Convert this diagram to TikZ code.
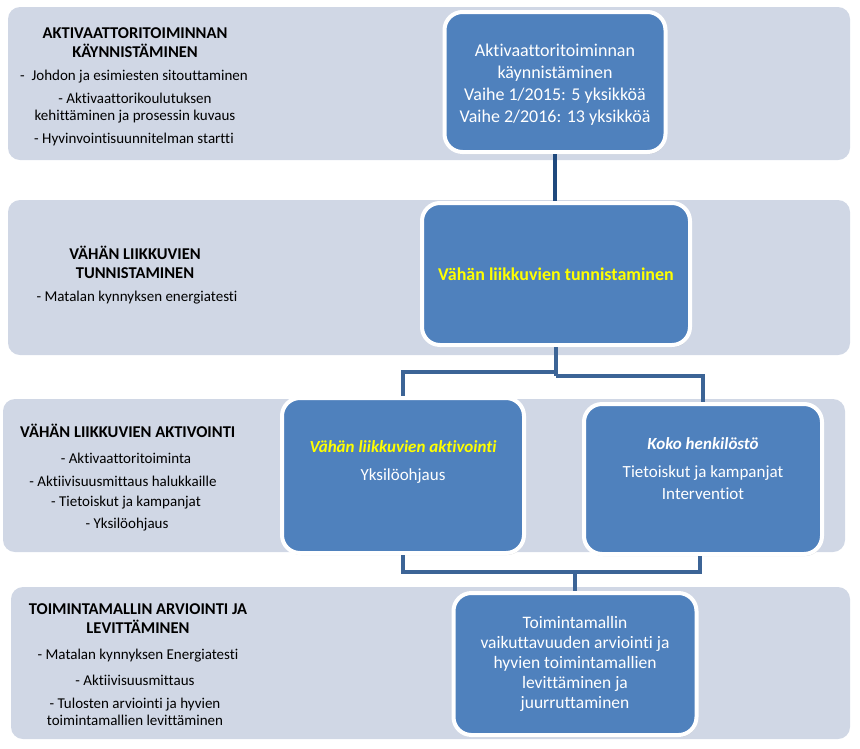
\documentclass[tikz,border=0pt]{standalone}
\usepackage{fontspec}
\setmainfont{Carlito}[Ligatures={NoCommon}]
\usetikzlibrary{shadows}
\definecolor{bandc}{RGB}{208,215,229}
\definecolor{boxc}{RGB}{79,129,189}
\definecolor{connA}{RGB}{31,73,125}
\definecolor{connB}{RGB}{60,100,150}
\definecolor{ylw}{RGB}{255,255,0}
\tikzset{
  band/.style={fill=bandc, draw=none, rounded corners=12pt},
  bluebox/.style={fill=boxc, draw=white, line width=4pt, rounded corners=18pt,
    align=center, text=white, font=\fontsize{18}{22}\selectfont, inner sep=2pt,
    drop shadow={opacity=0.25, shadow xshift=1pt, shadow yshift=-2pt}},
  boxtext/.style={align=center, text=white, inner sep=0pt},
  conn/.style={draw=connB, line width=4pt},
  title/.style={font=\fontsize{16.5}{19}\selectfont\bfseries, align=center, text=black, inner sep=0pt},
  item/.style={font=\fontsize{15}{17}\selectfont, align=center, text=black, inner sep=0pt},
}
\begin{document}
\begin{tikzpicture}[x=1pt,y=-1pt]
\useasboundingbox (0,0) rectangle (860,748);
% bands
\path[band] (8,7) rectangle (850,160);
\path[band] (8,200) rectangle (850,355);
\path[band] (3,399) rectangle (845,552);
\path[band] (11,587) rectangle (850,739);

% band texts
\node[title] (t1) at (135,43) {AKTIVAATTORITOIMINNAN\\KÄYNNISTÄMINEN};
\node[item] (t1a) at (134,77) {-\ \ Johdon ja esimiesten sitouttaminen};
\node[item] (t1b) at (135,108) {- Aktivaattorikoulutuksen\\kehittäminen ja prosessin kuvaus};
\node[item] (t1c) at (134,139) {- Hyvinvointisuunnitelman startti};

\node[title] (t2) at (135,262) {VÄHÄN LIIKKUVIEN\\TUNNISTAMINEN};
\node[item] (t2a) at (137,298) {- Matalan kynnyksen energiatesti};

\node[title, anchor=west] (t3) at (20,431) {VÄHÄN LIIKKUVIEN AKTIVOINTI};
\node[item] (t3a) at (126,458) {- Aktivaattoritoiminta};
\node[item] (t3b) at (123,481) {- Aktiivisuusmittaus halukkaille};
\node[item] (t3c) at (126,503) {- Tietoiskut ja kampanjat};
\node[item] (t3d) at (127,525) {- Yksilöohjaus};

\node[title] (t4) at (138,619) {TOIMINTAMALLIN ARVIOINTI JA\\LEVITTÄMINEN};
\node[item] (t4a) at (138,656) {-\ Matalan kynnyksen Energiatesti};
\node[item] (t4b) at (135,680) {- Aktiivisuusmittaus};
\node[item] (t4c) at (135,712) {- Tulosten arviointi ja hyvien\\toimintamallien levittäminen};

% blue boxes
\node[bluebox, minimum width=221pt, minimum height=140pt] (b1) at (555,82) {};
\node[boxtext, font=\fontsize{18}{22}\selectfont] (b1t) at (555,85)
  {Aktivaattoritoiminnan\\käynnistäminen\\Vaihe 1/2015: 5 yksikköä\\Vaihe 2/2016: 13 yksikköä};
\node[bluebox, minimum width=268pt, minimum height=142pt, font=\fontsize{18}{22}\selectfont\bfseries, text=ylw] (b2) at (556,274)
  {Vähän liikkuvien tunnistaminen};
\node[bluebox, minimum width=242pt, minimum height=155pt] (b3) at (403,475.5) {};
\node[boxtext, font=\fontsize{17}{22}\selectfont, anchor=north] (b3t) at (403,440)
  {{\color{ylw}\bfseries\itshape Vähän liikkuvien aktivointi}\\[6pt]Yksilöohjaus};
\node[bluebox, minimum width=238pt, minimum height=150pt] (b4) at (703,479) {};
\node[boxtext, font=\fontsize{17}{22}\selectfont, anchor=north] (b4t) at (703,437)
  {{\bfseries\itshape Koko henkilöstö}\\[6pt]Tietoiskut ja kampanjat\\Interventiot};
\node[bluebox, minimum width=243pt, minimum height=142pt, font=\fontsize{17.5}{20}\selectfont] (b5) at (575,664)
  {Toimintamallin\\vaikuttavuuden arviointi ja\\hyvien toimintamallien\\levittäminen ja\\juurruttaminen};

% connectors
\draw[conn, draw=connA] (b1.south) -- (b1.south |- b2.north);
\coordinate (j1) at (556,372);
\coordinate (j2) at (556,376);
\draw[conn] (b2.south) -- (j2);
\draw[conn] (j1) -| (b3.north);
\draw[conn] (j2) -| (b4.north);
\coordinate (j3) at (575,572);
\draw[conn] (b3.south) |- (j3) -| (b4.south -| 700,0);
\draw[conn] (j3) -- (j3 |- b5.north);
\end{tikzpicture}
\end{document}
